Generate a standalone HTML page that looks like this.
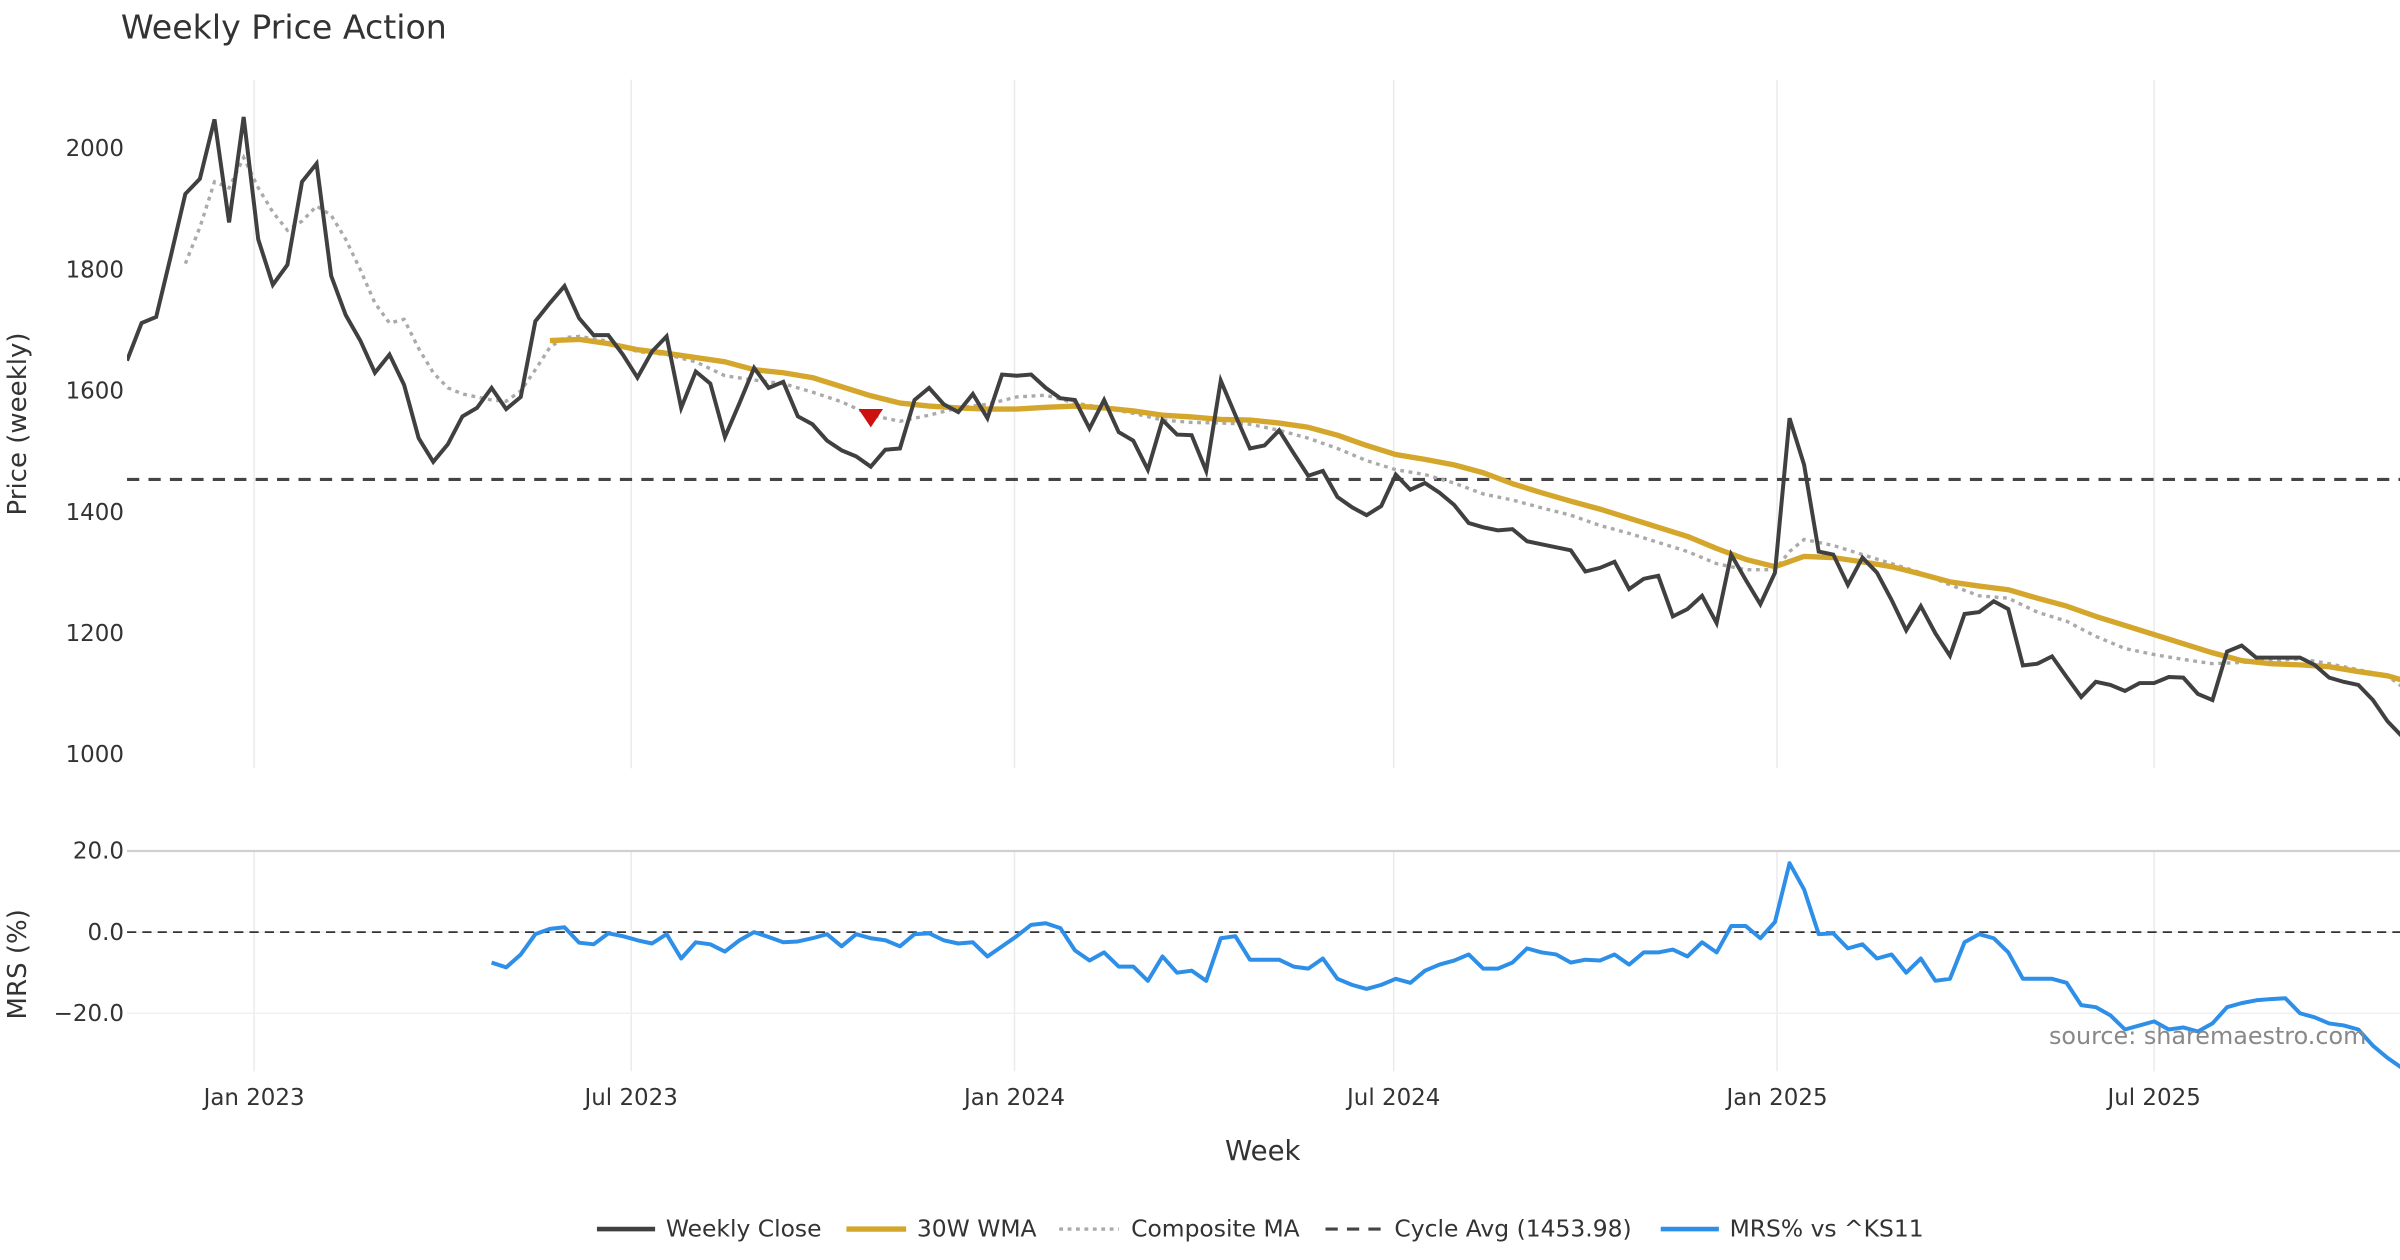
<!DOCTYPE html>
<html><head><meta charset="utf-8"><style>
html,body{margin:0;padding:0;background:#fff;}
svg{display:block;font-family:"DejaVu Sans","Liberation Sans",sans-serif;}
</style></head><body>
<svg id="chart" width="2400" height="1260" viewBox="0 0 1568 823.2" xmlns="http://www.w3.org/2000/svg">
<rect width="1568" height="823.2" fill="#fff"/>
<text x="79" y="25" font-size="21.7" fill="#333">Weekly Price Action</text>
<g id="grid"></g>
<g id="series"></g>
<g id="axes"></g>
<text transform="translate(17,277) rotate(-90)" text-anchor="middle" font-size="17" fill="#333">Price (weekly)</text>
<text transform="translate(17,630) rotate(-90)" text-anchor="middle" font-size="17" fill="#333">MRS (%)</text>
<text x="825" y="758" text-anchor="middle" font-size="18" fill="#333">Week</text>
<text x="1546" y="682" text-anchor="end" font-size="15.6" fill="#888">source: sharemaestro.com</text>
<g font-size="15.3" fill="#333">
<line x1="390" y1="803" x2="428" y2="803" stroke="#404040" stroke-width="3"/>
<text x="435" y="808">Weekly Close</text>
<line x1="553" y1="803" x2="592" y2="803" stroke="#D4A72C" stroke-width="3.5"/>
<text x="599" y="808">30W WMA</text>
<line x1="692" y1="803" x2="731" y2="803" stroke="#aaa" stroke-width="2.2" stroke-dasharray="2.5,3"/>
<text x="739" y="808">Composite MA</text>
<line x1="866" y1="803" x2="904" y2="803" stroke="#444" stroke-width="2" stroke-dasharray="8,6"/>
<text x="911" y="808">Cycle Avg (1453.98)</text>
<line x1="1085" y1="803" x2="1123" y2="803" stroke="#2d8fe8" stroke-width="3"/>
<text x="1130" y="808">MRS% vs ^KS11</text>
</g>
</svg>
<script>
const startDate = "2022-11-01";
const closeValues = [1650,1712,1722,1822,1925,1950,2048,1878,2052,1850,1775,1808,1945,1975,1790,1725,1683,1630,1660,1610,1522,1483,1512,1558,1572,1605,1570,1590,1715,1745,1773,1720,1692,1692,1660,1622,1665,1690,1572,1632,1612,1524,1580,1638,1605,1615,1558,1545,1518,1502,1492,1475,1503,1505,1585,1605,1578,1565,1595,1555,1627,1625,1627,1605,1588,1585,1538,1585,1532,1518,1470,1552,1528,1527,1468,1617,1560,1505,1510,1535,1497,1460,1468,1425,1408,1395,1410,1462,1437,1448,1432,1412,1382,1375,1370,1372,1352,1347,1342,1337,1302,1308,1318,1273,1290,1295,1228,1240,1262,1217,1330,1288,1248,1300,1555,1478,1335,1330,1280,1325,1300,1255,1205,1245,1200,1163,1232,1235,1253,1240,1147,1150,1162,1128,1095,1120,1115,1105,1118,1118,1128,1127,1100,1090,1170,1180,1160,1160,1160,1160,1148,1127,1120,1115,1090,1055,1030];
const wmaWeeks = [29,31,33,35,37,39,41,43,45,47,49,51,53,55,57,59,61,63,65,67,69,71,73,75,77,79,81,83,85,87,89,91,93,95,97,99,101,103,105,107,109,111,113,115,117,119,121,123,125,127,129,131,133,135,137,139,141,143,145,147,149,151,153,155,156];
const wmaValues = [1683,1685,1678,1668,1662,1655,1648,1635,1630,1622,1607,1592,1580,1575,1572,1570,1570,1573,1575,1572,1567,1560,1557,1553,1552,1547,1540,1527,1510,1495,1487,1478,1465,1447,1432,1418,1405,1390,1375,1360,1340,1322,1310,1327,1325,1318,1310,1298,1285,1278,1272,1258,1245,1228,1213,1198,1183,1168,1155,1150,1148,1145,1137,1130,1123];
const compWeeks = [4,5,6,7,8,9,10,11,12,13,14,15,16,17,18,19,20,21,22,23,24,25,26,27,28,29,30,31,33,35,37,39,41,43,45,47,49,51,53,55,57,59,61,63,65,67,69,71,73,75,77,79,81,83,85,87,89,91,93,95,97,99,101,103,105,107,109,111,113,114,115,117,119,121,123,125,127,129,131,133,135,137,139,141,143,145,147,149,151,153,155,156];
const compValues = [1810,1870,1945,1935,1985,1935,1895,1865,1880,1905,1890,1850,1800,1745,1712,1718,1670,1630,1605,1595,1590,1585,1583,1600,1635,1672,1688,1690,1682,1665,1660,1648,1625,1618,1612,1598,1582,1560,1550,1560,1572,1578,1590,1593,1580,1572,1563,1552,1548,1547,1545,1535,1522,1505,1485,1470,1462,1448,1430,1420,1407,1395,1378,1365,1350,1335,1315,1305,1305,1335,1355,1345,1330,1315,1300,1280,1262,1258,1235,1220,1195,1175,1165,1157,1150,1152,1155,1158,1150,1140,1130,1112];
const mrsStartWeek = 25;
const mrsValues = [-7.5,-8.7,-5.5,-0.5,0.8,1.2,-2.6,-3.0,-0.3,-1.0,-2.0,-2.8,-0.5,-6.5,-2.5,-3.0,-4.8,-2.0,0.0,-1.2,-2.5,-2.3,-1.5,-0.5,-3.5,-0.5,-1.5,-2.0,-3.5,-0.5,-0.3,-2.0,-2.8,-2.5,-6.0,-3.5,-1.0,1.8,2.2,1.0,-4.5,-7.0,-5.0,-8.5,-8.5,-12.0,-6.0,-10.0,-9.5,-12.0,-1.5,-1.0,-6.8,-6.8,-6.8,-8.5,-9.0,-6.5,-11.5,-13.0,-14.0,-13.0,-11.5,-12.5,-9.5,-8.0,-7.0,-5.5,-9.0,-9.0,-7.5,-4.0,-5.0,-5.5,-7.5,-6.8,-7.0,-5.5,-8.0,-5.0,-5.0,-4.3,-6.0,-2.5,-5.0,1.5,1.5,-1.5,2.5,17.0,10.5,-0.5,-0.3,-4.0,-3.0,-6.5,-5.5,-10.0,-6.5,-12.0,-11.5,-2.5,-0.5,-1.5,-5.0,-11.5,-11.5,-11.5,-12.5,-18.0,-18.5,-20.5,-24.0,-23.0,-22.0,-24.0,-23.5,-24.5,-22.5,-18.5,-17.5,-16.8,-16.5,-16.3,-20.0,-21.0,-22.5,-23.0,-24.0,-28.0,-31.0,-33.5];
const cycleAvg = 1453.98;
const signalWeek = 51;
const signalValue = 1555;
const priceTicks = [1000,1200,1400,1600,1800,2000];
const mrsTicks = [20,0,-20];
const mrsTickLabels = ["20.0","0.0","\u221220.0"];
const dateTicks = ["2023-01-01","2023-07-01","2024-01-01","2024-07-01","2025-01-01","2025-07-01"];
const dateTickLabels = ["Jan 2023","Jul 2023","Jan 2024","Jul 2024","Jan 2025","Jul 2025"];

const NS="http://www.w3.org/2000/svg";
const DAY=86400000, t0=Date.parse("2023-01-01"), PXD=(1161-166)/731;
function xDate(s){return 166+(Date.parse(s)-t0)/DAY*PXD;}
const s0=Date.parse(startDate);
function xWeek(i){return 166+((s0-t0)/DAY+i*7)*PXD;}
function yP(v){return 493-(v-1000)*0.396;}
function yM(v){return 609-v*2.65;}
function mk(tag,attrs,parent){const e=document.createElementNS(NS,tag);for(const k in attrs)e.setAttribute(k,attrs[k]);parent.appendChild(e);return e;}
const grid=document.getElementById('grid'),ser=document.getElementById('series'),axes=document.getElementById('axes');
const PL=83,PR=1568;
mk('clipPath',{id:'clipP'},ser);
mk('rect',{x:PL,y:50,width:PR-PL,height:455},document.getElementById('clipP'));
mk('clipPath',{id:'clipM'},ser);
mk('rect',{x:PL,y:550,width:PR-PL,height:152},document.getElementById('clipM'));

dateTicks.forEach((d,k)=>{const x=xDate(d);
 let l=mk('line',{x1:x,y1:52,x2:x,y2:502,stroke:'#ebebeb','stroke-width':1},grid);
 
 
 l=mk('line',{x1:x,y1:556,x2:x,y2:700,stroke:'#ebebeb','stroke-width':1},grid);
 
 
 const t=mk('text',{x:x,y:722,'text-anchor':'middle','font-size':15,fill:'#333'},axes);t.textContent=dateTickLabels[k];
 
 
});
priceTicks.forEach(v=>{const y=yP(v);
 const t=mk('text',{x:81,y:y+5,'text-anchor':'end','font-size':15,fill:'#333'},axes);t.textContent=v;
 
 
});
mrsTicks.forEach((v,k)=>{const y=yM(v);
 const l=mk('line',{x1:PL,y1:y,x2:PR,y2:y,stroke:v===20?'#d0d0d0':'#f0f0f0','stroke-width':v===20?1.5:1},grid);
 
 
 const t=mk('text',{x:81,y:y+5,'text-anchor':'end','font-size':15,fill:'#333'},axes);t.textContent=mrsTickLabels[k];
 
 
});
function path(pts){return pts.map((p,i)=>(i?'L':'M')+p[0].toFixed(2)+','+p[1].toFixed(2)).join('');}
let e;
e=mk('line',{x1:PL,y1:yP(cycleAvg),x2:PR,y2:yP(cycleAvg),stroke:'#444','stroke-width':2,'stroke-dasharray':'8,6'},ser);


e=mk('path',{d:path(compWeeks.map((w,i)=>[xWeek(w),yP(compValues[i])])),fill:'none',stroke:'#aaa','stroke-width':2.2,'stroke-dasharray':'2.5,3','clip-path':'url(#clipP)'},ser);


e=mk('path',{d:path(wmaWeeks.map((w,i)=>[xWeek(w),yP(wmaValues[i])])),fill:'none',stroke:'#D4A72C','stroke-width':3.5,'stroke-linejoin':'round','clip-path':'url(#clipP)'},ser);


e=mk('path',{d:path(closeValues.map((v,i)=>[xWeek(i),yP(v)])),fill:'none',stroke:'#404040','stroke-width':2.6,'stroke-linejoin':'miter','clip-path':'url(#clipP)'},ser);


const sx=xWeek(signalWeek),sy=yP(signalValue);
e=mk('path',{d:`M${sx-8},${sy-6}L${sx+8},${sy-6}L${sx},${sy+6}Z`,fill:'#cc1111'},ser);


e=mk('line',{x1:PL,y1:yM(0),x2:PR,y2:yM(0),stroke:'#333','stroke-width':1.2,'stroke-dasharray':'6,4'},ser);


e=mk('path',{d:path(mrsValues.map((v,i)=>[xWeek(mrsStartWeek+i),yM(v)])),fill:'none',stroke:'#2d8fe8','stroke-width':2.6,'stroke-linejoin':'round','clip-path':'url(#clipM)'},ser);


</script>
</body></html>
